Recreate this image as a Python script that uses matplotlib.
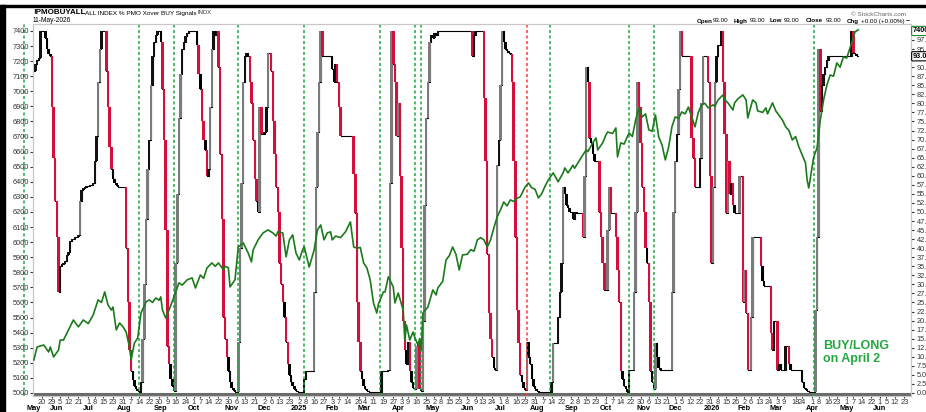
import numpy as np
import pandas as pd
import matplotlib
matplotlib.use("Agg")
import matplotlib.pyplot as plt
from matplotlib.transforms import blended_transform_factory
from matplotlib.patches import Rectangle

plt.rcParams['font.family'] = ['Liberation Sans', 'DejaVu Sans']

# trading calendar (NYSE holidays) - x axis is trading sessions since 13-May-2024
holidays = ["2024-05-27", "2024-06-19", "2024-07-04", "2024-09-02", "2024-11-28", "2024-12-25",
            "2025-01-01", "2025-01-09", "2025-01-20", "2025-02-17", "2025-04-18", "2025-05-26",
            "2025-06-19", "2025-07-04", "2025-09-01", "2025-11-27", "2025-12-25",
            "2026-01-01", "2026-01-19", "2026-02-16", "2026-04-03", "2026-05-25", "2026-06-19"]
sessions = pd.bdate_range("2024-05-13", "2026-07-15", freq="C", holidays=holidays)

# % PMO BUY signals (session number, close %)
ind_day = [0, 1, 2, 3, 4, 5, 7, 8, 9, 10, 11, 12, 13, 14, 15, 16, 17, 18, 19, 20, 21, 22, 23, 25, 27,
           28, 29, 30, 31, 32, 34, 36, 37, 38, 39, 40, 41, 44, 45, 46, 47, 48, 49, 50, 51, 56, 57, 58,
           59, 60, 61, 62, 63, 64,
           65, 66, 67, 68, 69, 70, 71, 72, 73, 74, 75, 77, 78, 79, 80, 81, 82, 83, 84, 85,
           86, 87, 88, 89, 90, 91, 92, 93, 94, 99, 100, 101, 102, 103, 104, 105, 106, 107, 108, 109,
           110, 111, 112, 113, 114, 115, 116, 117, 118, 119, 120, 121, 122, 123,
           124, 125, 126, 127, 128, 129, 130, 131, 132, 133, 134, 135, 136, 137, 138, 140, 141, 142,
           144, 145, 146, 147, 148, 149, 150, 151, 152, 153, 154, 155, 156, 157, 158, 159, 160, 162,
           164, 165, 166, 170, 171, 172, 173, 174, 175, 181, 182, 183, 184, 185, 186, 194, 195, 196,
           197, 198, 199, 200, 201, 202, 203,
           211, 215, 216, 217, 218, 219, 220, 221, 222, 223, 224, 225, 226, 227, 228, 229, 230, 231,
           232, 233, 234, 235,
           236, 237, 238, 239, 240, 241, 242, 243, 244, 245, 266, 267, 268, 273, 274, 275, 276, 277,
           278, 279, 280, 281, 282, 283, 284, 285, 286, 287, 288, 289, 290, 291, 292, 293, 294, 295,
           296, 297, 298, 299, 300, 301, 302, 303, 304, 305, 306,
           314, 315, 318, 319, 320, 321, 322, 323, 324, 325, 327, 328, 329, 333, 334, 335, 336, 337,
           338, 339, 340, 343, 344, 345, 346, 348, 349, 350, 353, 354, 355, 356, 357, 358, 359, 360,
           361, 364, 365, 366, 367, 368, 369, 370, 371, 372, 373, 374, 375, 376,
           377, 378, 379, 380, 387, 388, 389, 390, 391, 392, 393, 399, 400, 401, 404, 405, 406, 409,
           410, 411, 412, 413, 414, 415, 417, 418, 419, 420, 421, 422, 423, 424, 425, 428, 430, 431,
           432, 433, 435, 436, 441, 442, 443, 447, 448, 449, 451, 452, 453, 456, 458, 459, 466, 467,
           468, 469, 470, 471,
           474, 475, 476, 477, 478, 479, 480, 481, 482, 495, 496, 497, 498, 499]
ind_pct = [89, 91, 92, 92.5, 100, 100, 98, 95, 93.5, 93, 79, 65, 53, 43, 28, 35, 35.5, 36, 36.5, 38, 39,
           42, 42.5, 43, 43.5, 53, 56, 56.5, 57, 57.2, 57.5, 58, 64, 71, 86, 95, 100, 89, 79, 68, 62,
           59, 58, 57.5, 57, 40, 25, 12, 6, 3.5, 2, 1, 0.5, 0.3,
           3, 15, 30, 48, 62, 70, 85, 93, 97, 99, 100, 97, 84, 70, 45, 13, 8, 4, 2, 0.5,
           36, 55, 76, 88, 95, 97, 98.5, 99.5, 100, 96, 88, 84, 75, 70, 67, 60, 62, 79, 95, 100,
           99, 100, 90, 66, 48, 21, 15, 10, 6, 3, 1.5, 0.7, 0.3, 0.2,
           14, 40, 58, 86, 93, 94, 93, 86, 80, 70, 59, 53, 50, 79, 71.6, 72, 79, 94,
           89, 75, 66, 57, 50, 36, 30, 25, 21, 14, 8, 5, 3, 2, 1, 0.5, 0.3, 0.2,
           4, 6, 6.2, 28, 57, 72, 86, 100, 93, 89.5, 86, 91, 86, 79, 71, 60.6, 49.6, 25,
           14, 6, 4, 2, 1, 0.5, 0.2,
           6, 6.3, 58, 100, 91, 86, 71, 80, 60, 40, 20, 12, 8, 14, 6, 3, 1.5, 1,
           13, 14, 1, 0.5,
           20, 52, 76, 86, 97, 99, 98, 99.5, 99, 100, 93, 99, 100, 81.5, 64, 38.5, 22, 15,
           10, 7, 6.3, 63, 70, 85, 100, 97, 95, 94.5, 94, 93.7, 86, 64, 43, 23, 13.8, 5,
           3, 1.5, 0.8, 14, 10, 8, 4, 2, 1, 0.5, 0.2,
           3, 13.8, 21, 28, 36, 57, 55, 52, 51, 50, 48, 50, 49.6, 43, 60, 90, 86, 70.5,
           69, 66, 64, 50, 43, 36, 28.4, 45, 57, 49.6, 43, 34, 25, 6, 4, 2, 1, 0.3,
           6.3, 28, 50, 86, 79, 69, 57, 50, 40, 36, 25, 6, 3, 1,
           13.8, 10, 7, 6.3, 28, 50, 64, 71.6, 84, 100, 93, 70.5, 65, 57, 65, 80, 93, 86,
           60, 36, 57, 86, 93, 96, 100, 86, 71.6, 49.6, 64, 55, 58, 52, 49.6, 60, 25, 34,
           22, 6.3, 21, 43, 35, 31, 29.5, 16.5, 12, 20, 6.3, 8, 6.3, 13, 8, 6.3, 3, 1.5,
           1, 0.5, 0.3, 0.2,
           23, 43, 95, 78, 85, 88, 90, 92, 93, 93, 100, 94, 93.5, 93]

# $SPX overlay (session number, price)
spx_day = [0, 2, 6, 9, 10, 12, 15, 16, 18, 21, 24, 27, 30, 33, 36, 39, 41, 43, 45, 47, 48, 50, 52, 54,
           56, 58, 59, 61, 63, 65, 68, 70, 72, 74, 76, 77, 78, 80, 82, 85, 88, 90, 93, 96, 98, 101,
           103, 105, 108, 110, 112, 115, 116, 118, 119, 122, 124, 127, 130, 132, 133, 136, 139, 142,
           145, 147, 148, 151, 153, 155, 157, 159, 161, 163, 164, 167, 170, 172, 174, 176, 178, 180,
           181, 183, 186, 189, 192, 194, 196, 198, 200, 202, 204, 206, 208, 209, 212, 213, 215, 218,
           219, 221, 224, 225, 226, 228, 230, 231, 233, 234, 235, 236, 239, 242, 244, 245, 248, 250,
           252, 254, 256, 258, 260, 263, 265, 267, 269, 271, 273, 275, 277, 279, 281, 283, 285, 287,
           289, 291, 293, 295, 298, 300, 302, 304, 306, 308, 310, 312, 315, 316, 318, 321, 322, 324,
           327, 328, 330, 333, 335, 336, 339, 341, 342, 345, 347, 348, 351, 353, 354, 356, 358, 361,
           363, 365, 367, 369, 371, 373, 375, 377, 379, 381, 383, 385, 387, 389, 391, 393, 395, 397,
           399, 401, 403, 405, 407, 409, 412, 413, 415, 418, 419, 421, 424, 425, 427, 430, 432, 433,
           436, 438, 439, 442, 444, 445, 448, 450, 452, 454, 456, 458, 460, 462, 464, 466, 468, 469,
           470, 472, 473, 475, 477, 479, 481, 483, 485, 487, 489, 491, 493, 495, 497, 498, 500]
spx_val = [5219, 5305, 5318, 5272, 5305, 5239, 5285, 5351, 5351, 5418, 5484, 5438, 5484, 5460, 5517,
           5617, 5600, 5670, 5583, 5550, 5570, 5418, 5464, 5440, 5404, 5305, 5219, 5331, 5365, 5530,
           5603, 5617, 5600, 5630, 5615, 5637, 5550, 5497, 5550, 5637, 5730, 5715, 5750, 5763, 5696,
           5782, 5760, 5829, 5862, 5840, 5862, 5815, 5840, 5830, 5703, 5750, 5968, 5995, 5928, 5869,
           5948, 6015, 6061, 6081, 6061, 6040, 6070, 6061, 5902, 6015, 6048, 5928, 5882, 5948, 5970,
           5835, 5948, 6081, 6114, 6015, 6061, 6068, 6015, 6040, 6030, 6068, 6134, 5968, 5960, 5965,
           5862, 5829, 5750, 5597, 5530, 5590, 5670, 5670, 5770, 5703, 5597, 5663, 5550, 5351, 5451,
           5351, 5404, 5370, 5318, 5360, 5285, 5530, 5570, 5683, 5650, 5696, 5740, 5882, 5910, 5968,
           5920, 5815, 5915, 5920, 5950, 5940, 6015, 6030, 6015, 5968, 6015, 6094, 6167, 6213, 6266,
           6240, 6280, 6270, 6290, 6300, 6366, 6392, 6360, 6350, 6293, 6320, 6370, 6412, 6459, 6440,
           6400, 6459, 6492, 6459, 6510, 6490, 6525, 6578, 6611, 6600, 6658, 6691, 6611, 6658, 6711,
           6730, 6720, 6757, 6565, 6658, 6650, 6724, 6700, 6810, 6890, 6830, 6850, 6744, 6735, 6843,
           6697, 6644, 6545, 6630, 6764, 6830, 6820, 6863, 6850, 6896, 6830, 6764, 6860, 6910, 6920,
           6890, 6910, 6900, 6943, 6976, 6943, 6923, 6876, 6923, 6950, 6976, 6943, 6823, 6943, 6923,
           6870, 6860, 6890, 6850, 6923, 6870, 6840, 6810, 6764, 6740, 6677, 6700, 6631, 6578, 6525,
           6412, 6359, 6498, 6565, 6624, 6810, 6943, 7042, 7108, 7100, 7188, 7160, 7228, 7220, 7288,
           7354, 7394, 7407]

# signal lines (session numbers)
buy_signals = [-6, 64, 85, 124, 164, 210, 231, 235, 313, 361, 376, 473]
sell_signals = [299]

# x axis labels
tick_dates = ["2024-05-20", "2024-05-29", "2024-06-05", "2024-06-12", "2024-06-21", "2024-07-01",
              "2024-07-08", "2024-07-15", "2024-07-23", "2024-07-31", "2024-08-07", "2024-08-14",
              "2024-08-22", "2024-08-30", "2024-09-09", "2024-09-16", "2024-09-24", "2024-10-01",
              "2024-10-07", "2024-10-14", "2024-10-22", "2024-10-30", "2024-11-06", "2024-11-13",
              "2024-11-21", "2024-12-02", "2024-12-06", "2024-12-13", "2024-12-23", "2025-01-02",
              "2025-01-08", "2025-01-16", "2025-01-27", "2025-02-03", "2025-02-07", "2025-02-14",
              "2025-02-26", "2025-03-04", "2025-03-11", "2025-03-19", "2025-03-27", "2025-04-03",
              "2025-04-09", "2025-04-16", "2025-04-25", "2025-05-02", "2025-05-08", "2025-05-15",
              "2025-05-23", "2025-06-02", "2025-06-09", "2025-06-13", "2025-06-24", "2025-07-01",
              "2025-07-08", "2025-07-16", "2025-07-23", "2025-07-31", "2025-08-07", "2025-08-14",
              "2025-08-22", "2025-09-02", "2025-09-08", "2025-09-15", "2025-09-23", "2025-10-01",
              "2025-10-07", "2025-10-14", "2025-10-22", "2025-10-30", "2025-11-06", "2025-11-13",
              "2025-11-21", "2025-12-01", "2025-12-05", "2025-12-12", "2025-12-22", "2025-12-31",
              "2026-01-08", "2026-01-15", "2026-01-26", "2026-02-02", "2026-02-06", "2026-02-13",
              "2026-02-24", "2026-03-03", "2026-03-09", "2026-03-18", "2026-03-24", "2026-04-01",
              "2026-04-08", "2026-04-16", "2026-04-23", "2026-05-01", "2026-05-07", "2026-05-14",
              "2026-05-22", "2026-06-01", "2026-06-05", "2026-06-12", "2026-06-23"]
month_labels = ["May", "Jun", "Jul", "Aug", "Sep", "Oct", "Nov", "Dec", "2025", "Feb", "Mar", "Apr",
                "May", "Jun", "Jul", "Aug", "Sep", "Oct", "Nov", "Dec", "2026", "Feb", "Mar", "Apr",
                "May", "Jun"]

W, H = 926, 412
fig = plt.figure(figsize=(W / 100, H / 100), dpi=100)
ax = fig.add_axes([33 / W, (H - 396) / H, (911 - 33) / W, (396 - 24) / H])
ax2 = ax.twinx()
ax.set_zorder(ax2.get_zorder() + 1)
ax.patch.set_visible(False)

y_lo, y_hi = 4980, 7446
ax.set_ylim(y_lo, y_hi)
ax2.set_ylim((y_lo - 5000) / 24, (y_hi - 5000) / 24)
ax.set_xlim(-0.5, 532)

# indicator: flat steps + bars from previous close
d = np.array(ind_day)
p = np.array(ind_pct, dtype=float)
ax2.step(np.append(d, d[-1] + 1), np.append(p, p[-1]), where='post', color='black', lw=0.8, zorder=2)
prev, cur, xs = p[:-1], p[1:], d[1:]
diff = cur - prev
cols = np.where(diff > 0, np.where(diff > 8, '#7b7b7b', '#111111'),
                np.where(diff < -4, '#d40f3c', '#000000'))
m = diff != 0
ax2.bar(xs[m], diff[m], bottom=prev[m], width=1.5, color=cols[m], linewidth=0, zorder=3)
ax2.axhline(-0.4, color='#6b6b6b', lw=2.2, zorder=4)

for s in buy_signals:
    ax2.axvline(s, color='#22a83f', ls=(0, (2, 1.6)), lw=1.1, zorder=5, clip_on=(s >= 0))
for s in sell_signals:
    ax2.axvline(s, color='#ff3b3b', ls=(0, (2, 1.6)), lw=1.1, zorder=5)

ax.plot(spx_day, spx_val, color='#1b7a1b', lw=1.2, zorder=6)

# axes styling
for a in (ax, ax2):
    for sp in a.spines.values():
        sp.set_color('#c8c8c8')
        sp.set_linewidth(0.8)
ax.set_yticks(range(5000, 7401, 100))
ax.tick_params(axis='y', labelsize=5.3, length=2, pad=1, colors='#333333')
ax2.set_yticks(np.arange(0, 100, 2.5))
ax2.set_yticklabels([f"{v:.1f}" for v in np.arange(0, 100, 2.5)])
ax2.tick_params(axis='y', labelsize=5.3, length=2, pad=2, colors='#333333')

tick_pos = sessions.searchsorted(pd.to_datetime(tick_dates))
ax.set_xticks(tick_pos)
ax.set_xticklabels([str(pd.Timestamp(t).day) for t in tick_dates])
ax.tick_params(axis='x', labelsize=5.3, length=1.5, pad=0.5, colors='#333333')
month_pos = sessions.searchsorted(pd.date_range("2024-05-01", "2026-06-01", freq="MS"))
tr = blended_transform_factory(ax.transData, ax.transAxes)
for pos, lab in zip(month_pos, month_labels):
    ax.text(pos, -(408 - 396) / 372, lab, transform=tr, ha='center', va='center', fontsize=5.3,
            fontweight='bold', clip_on=False)

# value tags on the right
tr2 = blended_transform_factory(ax.transAxes, ax.transData)
ax.text(1.002, 7400, "7400", transform=tr2, fontsize=5.3, fontweight='bold', va='center', ha='left',
        bbox=dict(boxstyle='round,pad=0.15', fc='white', ec='#1f8a2a', lw=0.8), clip_on=False, zorder=10)
ax.text(1.002, 5000 + 93 * 24, "93.00", transform=tr2, fontsize=5.3, fontweight='bold', va='center',
        ha='left', bbox=dict(boxstyle='round,pad=0.15', fc='white', ec='black', lw=0.8),
        clip_on=False, zorder=10)

ax.text(0.9, 0.15, "BUY/LONG\non April 2", transform=ax.transAxes, fontsize=9, fontweight='bold',
        color='#22a83f', ha='left', va='top', linespacing=1.1)

# header
fig.text(33 / W, 1 - 13 / H, "!PMOBUYALL", fontsize=5.8, fontweight='bold', va='center')
fig.text(85 / W, 1 - 13 / H, "ALL INDEX % PMO Xover BUY Signals", fontsize=4.6, va='center')
fig.text(198 / W, 1 - 13 / H, "INDX", fontsize=4.2, va='center', color='#333333')
fig.text(33 / W, 1 - 21 / H, "11-May-2026", fontsize=4.8, va='center')
fig.text(906 / W, 1 - 14 / H, "\u00a9 StockCharts.com", fontsize=4.6, va='center', ha='right', color='#666666')
ohlc = [(697, "Open", True), (713, "93.00", False), (734, "High", True), (750, "93.00", False),
        (770, "Low", True), (784, "93.00", False), (806, "Close", True), (826, "93.00", False),
        (847, "Chg", True), (861, "+0.00 (+0.00%)", False)]
for xp, t, b in ohlc:
    fig.text(xp / W, 1 - 21 / H, t, fontsize=4.5, va='center', fontweight='bold' if b else 'normal')
fig.text(906 / W, 1 - 21 / H, "\u2013", fontsize=5, va='center', fontweight='bold')

# screenshot frame
fig.add_artist(Rectangle((0, 0), 5 / W, 1 - 5 / H, transform=fig.transFigure, color='black'))
fig.add_artist(Rectangle((0, 1 - 7 / H), 1, 2 / H, transform=fig.transFigure, color='black'))

fig.savefig("out.png", dpi=100)
